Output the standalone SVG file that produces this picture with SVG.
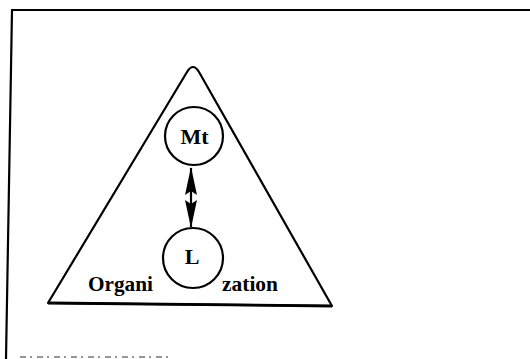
<svg xmlns="http://www.w3.org/2000/svg" width="530" height="359" viewBox="0 0 530 359">
  <style>
    .ln { fill: none; stroke: #000; stroke-width: 2.2; stroke-linejoin: round; stroke-linecap: round; }
    .node { fill: #fff; stroke: #000; stroke-width: 2.2; }
    .lbl { font-family: "Liberation Serif", "Times New Roman", serif; font-size: 22px; font-weight: bold; fill: #000; }
  </style>
  <defs>
    <marker id="head" viewBox="0 0 28 14" refX="27" refY="7" markerWidth="28" markerHeight="14" markerUnits="userSpaceOnUse" orient="auto-start-reverse">
      <path d="M0,1 L28,7 L0,13 L4,7 Z" fill="#000"/>
    </marker>
  </defs>
  <rect width="530" height="359" fill="#fff"/>
  <g id="frame">
    <path class="ln" d="M12,10 L530,10"/>
    <path class="ln" d="M12,10 L6,359"/>
    <path d="M20,357 L170,357" stroke="#333" stroke-width="1.2" stroke-dasharray="6 4 2 5" fill="none"/>
  </g>
  <g id="organization">
    <path class="ln" d="M48,303 L187,72 Q193,62 199,72 L332,306 Z"/>
    <path d="M48,303 L332,306" stroke="#000" stroke-width="2.8" fill="none"/>
    <text class="lbl" x="88" y="291" textLength="65" lengthAdjust="spacingAndGlyphs">Organi</text>
    <text class="lbl" x="222" y="291" textLength="56" lengthAdjust="spacingAndGlyphs">zation</text>
  </g>
  <g id="connectors">
    <line x1="191" y1="168" x2="191" y2="227" stroke="#000" stroke-width="2.2" marker-start="url(#head)" marker-end="url(#head)"/>
  </g>
  <g id="node-mt">
    <circle class="node" cx="194" cy="136" r="29"/>
    <text class="lbl" x="194.5" y="144" text-anchor="middle">Mt</text>
  </g>
  <g id="node-l">
    <circle class="node" cx="193" cy="258" r="30"/>
    <text class="lbl" x="192" y="264" text-anchor="middle">L</text>
  </g>
</svg>
